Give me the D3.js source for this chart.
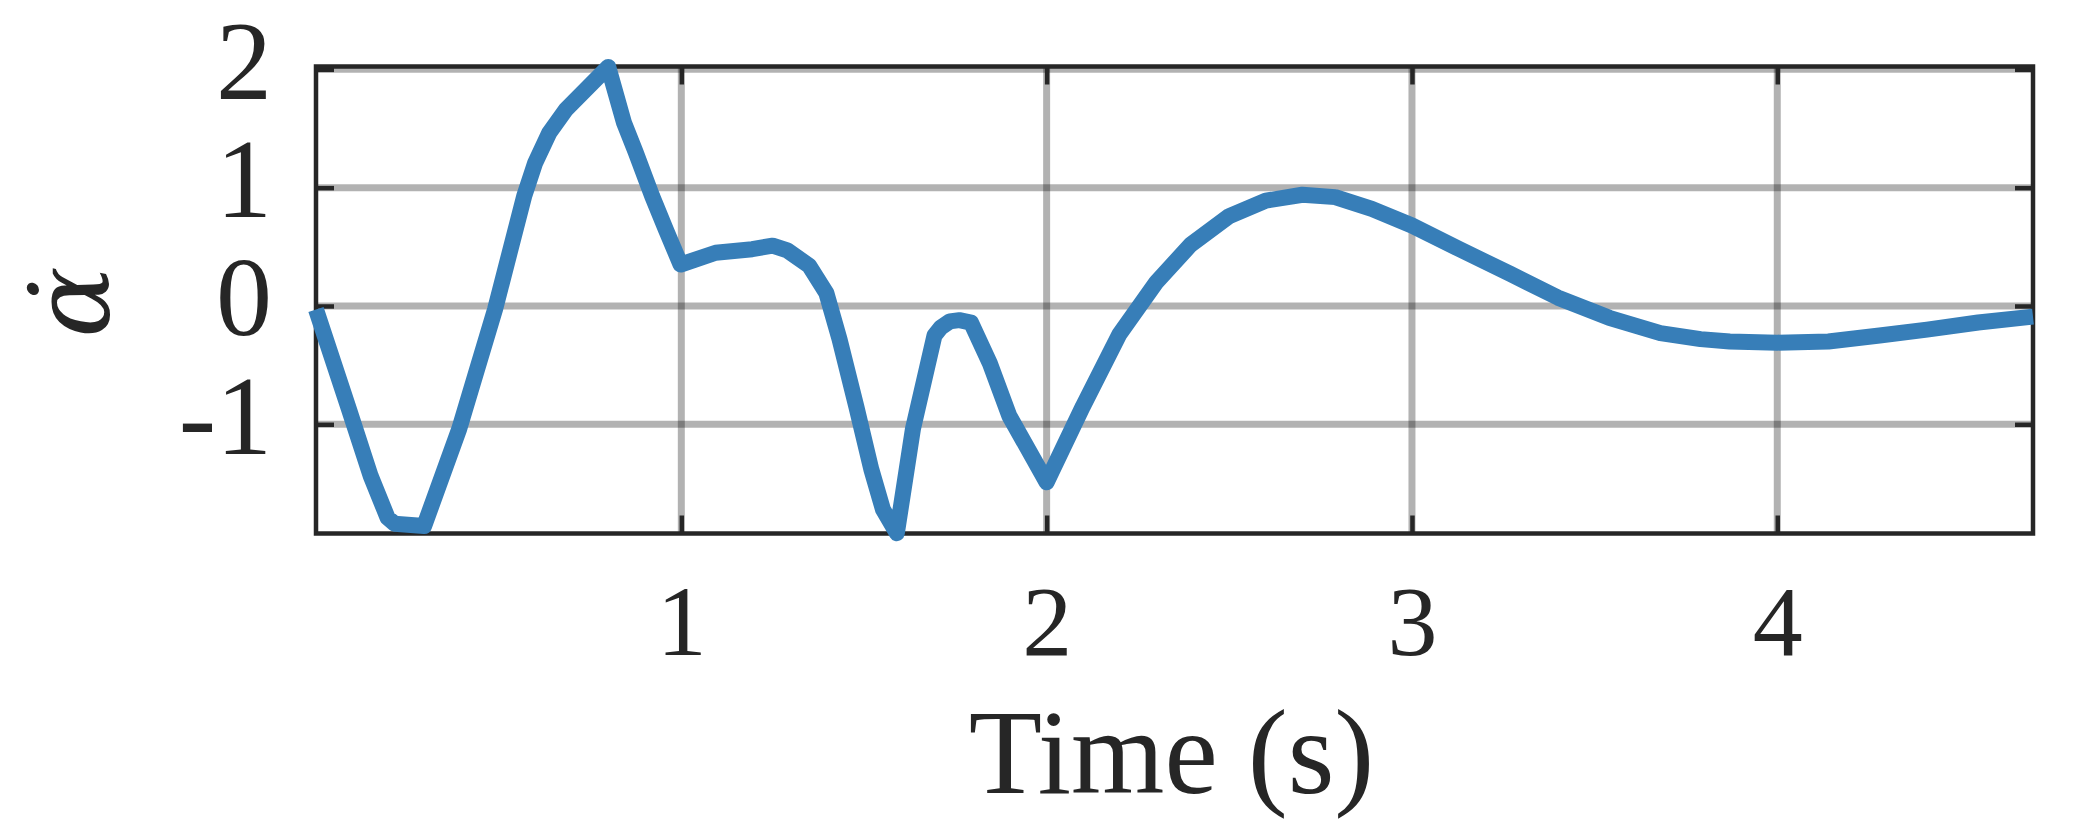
<!DOCTYPE html>
<html>
<head>
<meta charset="utf-8">
<script src="https://cdn.jsdelivr.net/npm/d3@7/dist/d3.min.js"></script>
<style>
  html, body { margin: 0; padding: 0; background: #ffffff; }
  svg { display: block; }
</style>
</head>
<body>
<svg id="chart" width="2083" height="833"></svg>
<script>
// ---- data ----
const timeValues = [
  0.00, 0.09, 0.15, 0.196, 0.215, 0.296, 0.392, 0.49, 0.57, 0.60,
  0.638, 0.684, 0.80, 0.843, 0.875, 0.92, 0.957, 0.998, 1.094, 1.194,
  1.25, 1.29, 1.35, 1.397, 1.433, 1.479, 1.52, 1.552, 1.59, 1.634,
  1.693, 1.711, 1.735, 1.761, 1.793, 1.844, 1.898, 2.00, 2.099, 2.199,
  2.30, 2.395, 2.50, 2.60, 2.70, 2.79, 2.89, 3.00, 3.13, 3.27,
  3.40, 3.54, 3.68, 3.79, 3.87, 4.00, 4.14, 4.28, 4.41, 4.55, 4.70
];
const alphaDotValues = [
  -0.03, -0.87, -1.44, -1.79, -1.84, -1.86, -1.04, -0.03, 0.93, 1.21,
  1.46, 1.66, 2.02, 1.55, 1.30, 0.93, 0.65, 0.35, 0.45, 0.48,
  0.51, 0.47, 0.34, 0.11, -0.28, -0.85, -1.38, -1.72, -1.92, -1.04,
  -0.25, -0.18, -0.13, -0.12, -0.14, -0.48, -0.93, -1.49, -0.85, -0.24,
  0.20, 0.52, 0.76, 0.89, 0.94, 0.92, 0.82, 0.68, 0.48, 0.27,
  0.07, -0.10, -0.23, -0.28, -0.30, -0.31, -0.30, -0.25, -0.20, -0.14, -0.09
];
const xTickValues = [1, 2, 3, 4];
const yTickValues = [-1, 0, 1, 2];
const xDomain = [0, 4.7];
const yDomain = [-1.923, 2.024];
const xLabelText = "Time (s)";
const yLabelText = "\u03B1\u0307";

// ---- layout ----
const plot = { left: 316, right: 2033, top: 66.5, bottom: 533.5 };
const ink = "#262626";
const serif = "'Liberation Serif', 'DejaVu Serif', serif";

const svg = d3.select("#chart");
svg.append("rect").attr("width", 2083).attr("height", 833).attr("fill", "#fff");

const x = d3.scaleLinear().domain(xDomain).range([plot.left, plot.right]);
const y = d3.scaleLinear().domain(yDomain).range([plot.bottom, plot.top]);

// grid
const grid = svg.append("g");
grid.selectAll("line.h").data(yTickValues).join("line")
  .attr("x1", plot.left).attr("x2", plot.right)
  .attr("y1", d => y(d)).attr("y2", d => y(d))
  .attr("stroke", "#000").attr("stroke-opacity", 0.3).attr("stroke-width", 7);
grid.selectAll("line.v").data(xTickValues).join("line")
  .attr("y1", plot.top).attr("y2", plot.bottom)
  .attr("x1", d => x(d)).attr("x2", d => x(d))
  .attr("stroke", "#000").attr("stroke-opacity", 0.3).attr("stroke-width", 7);

// axes
function styleAxis(g) {
  g.select(".domain").remove();
  g.selectAll(".tick line").attr("stroke", ink).attr("stroke-width", 4.5);
}
const yAxisL = svg.append("g").attr("transform", `translate(${plot.left},0)`)
  .call(d3.axisLeft(y).tickValues(yTickValues).tickSize(-18).tickPadding(44).tickFormat(d3.format("d")));
styleAxis(yAxisL);
yAxisL.selectAll(".tick text")
  .attr("dy", 0).attr("y", 29)
  .attr("fill", ink).attr("font-family", serif).attr("font-size", 112)
  .text(d => (d < 0 ? "-" : "") + Math.abs(d));

const yAxisR = svg.append("g").attr("transform", `translate(${plot.right},0)`)
  .call(d3.axisRight(y).tickValues(yTickValues).tickSize(-18).tickFormat(""));
styleAxis(yAxisR);

const xAxisB = svg.append("g").attr("transform", `translate(0,${plot.bottom})`)
  .call(d3.axisBottom(x).tickValues(xTickValues).tickSize(-18).tickFormat(d3.format("d")));
styleAxis(xAxisB);
xAxisB.selectAll(".tick text")
  .attr("dy", 0).attr("y", 121.5)
  .attr("fill", ink).attr("font-family", serif).attr("font-size", 100);

const xAxisT = svg.append("g").attr("transform", `translate(0,${plot.top})`)
  .call(d3.axisTop(x).tickValues(xTickValues).tickSize(-18).tickFormat(""));
styleAxis(xAxisT);

// frame
svg.append("rect")
  .attr("x", plot.left).attr("y", plot.top)
  .attr("width", plot.right - plot.left).attr("height", plot.bottom - plot.top)
  .attr("fill", "none").attr("stroke", ink).attr("stroke-width", 4.5);

// line
const data = timeValues.map((t, i) => ({ t, v: alphaDotValues[i] }));
svg.append("path")
  .datum(data)
  .attr("d", d3.line().x(d => x(d.t)).y(d => y(d.v)).curve(d3.curveLinear))
  .attr("fill", "none")
  .attr("stroke", "#377eb8")
  .attr("stroke-width", 16)
  .attr("stroke-linejoin", "round")
  .attr("stroke-linecap", "butt");

// labels
svg.append("text")
  .attr("x", (plot.left + plot.right) / 2 - 3).attr("y", 793)
  .attr("text-anchor", "middle")
  .attr("fill", ink).attr("font-family", serif).attr("font-size", 120)
  .text(xLabelText);

svg.append("text")
  .attr("transform", `translate(109,302) rotate(-90)`)
  .attr("text-anchor", "middle")
  .attr("fill", ink).attr("font-family", "'DejaVu Serif', serif").attr("font-style", "italic").attr("font-size", 106)
  .text(yLabelText);
</script>
</body>
</html>
